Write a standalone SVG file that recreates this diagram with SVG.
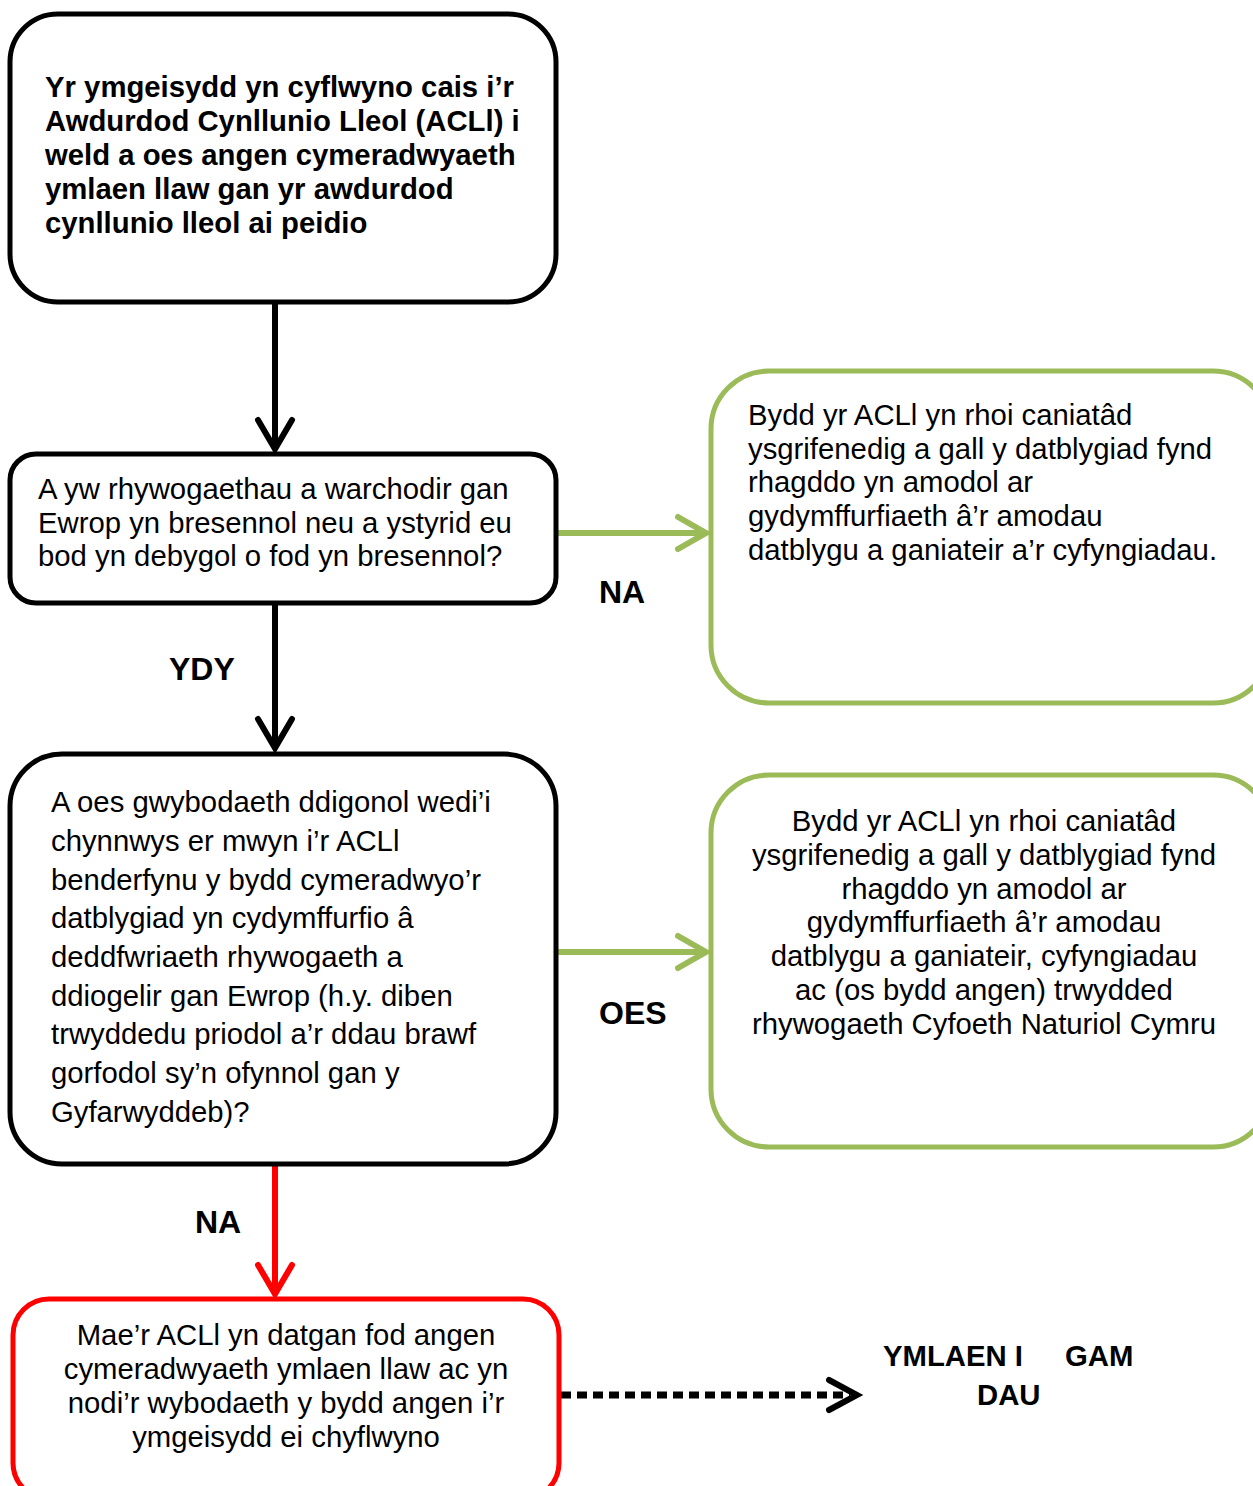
<svg xmlns="http://www.w3.org/2000/svg" width="1253" height="1486" viewBox="0 0 1253 1486">
<style>
.box{fill:#fff;stroke-width:5}
.blk{stroke:#000}
.grn{stroke:#9BBB59}
.red{stroke:#FF0000}
text{font-family:"Liberation Sans",Arial,sans-serif;font-size:29.3px;fill:#000}
.b{font-weight:bold}
.lb{font-weight:bold;font-size:32px}
.c{text-anchor:middle}
.ln{fill:none;stroke-width:6}
.hd{fill:none;stroke-width:6;stroke-linecap:round;stroke-linejoin:miter}
</style>
<rect width="1253" height="1486" fill="#fff"/>
<g id="connectors">
<line class="ln blk" x1="275" y1="302" x2="275" y2="448"/>
<polyline class="hd blk" points="258,420 275,449 292,420"/>
<line class="ln blk" x1="275" y1="603" x2="275" y2="748"/>
<polyline class="hd blk" points="258,719 275,748 292,719"/>
<line class="ln grn" x1="558" y1="533" x2="705" y2="533"/>
<polyline class="hd grn" points="678,517 706,533 678,549"/>
<line class="ln grn" x1="558" y1="952" x2="705" y2="952"/>
<polyline class="hd grn" points="678,936 706,952 678,968"/>
<line class="ln red" x1="275" y1="1148" x2="275" y2="1293"/>
<polyline class="hd red" points="258,1265 275,1294 292,1265"/>
<line x1="561" y1="1395" x2="850" y2="1395" stroke="#000" stroke-width="7" stroke-dasharray="10 6"/>
<polyline class="hd" stroke="#000" stroke-width="7" points="829,1380 857,1395 829,1410"/>
</g>
<g id="node1">
<rect class="box blk" x="10" y="14" width="546" height="288" rx="48"/>
<text class="b"><tspan y="97" x="45">Yr ymgeisydd yn cyflwyno cais i’r</tspan><tspan y="131" x="45">Awdurdod Cynllunio Lleol (ACLl) i</tspan><tspan y="165" x="45">weld a oes angen cymeradwyaeth</tspan><tspan y="199" x="45">ymlaen llaw gan yr awdurdod</tspan><tspan y="233" x="45">cynllunio lleol ai peidio</tspan></text>
</g>
<g id="node2">
<rect class="box blk" x="10" y="454" width="546" height="149" rx="26"/>
<text><tspan y="499" x="38">A yw rhywogaethau a warchodir gan</tspan><tspan y="533" x="38">Ewrop yn bresennol neu a ystyrid eu</tspan><tspan y="566" x="38">bod yn debygol o fod yn bresennol?</tspan></text>
</g>
<g id="node3">
<rect class="box blk" x="10" y="754" width="546" height="410" rx="52"/>
<text><tspan y="812" x="51">A oes gwybodaeth ddigonol wedi’i</tspan><tspan y="851" x="51">chynnwys er mwyn i’r ACLl</tspan><tspan y="890" x="51">benderfynu y bydd cymeradwyo’r</tspan><tspan y="928" x="51">datblygiad yn cydymffurfio â</tspan><tspan y="967" x="51">deddfwriaeth rhywogaeth a</tspan><tspan y="1006" x="51">ddiogelir gan Ewrop (h.y. diben</tspan><tspan y="1044" x="51">trwyddedu priodol a’r ddau brawf</tspan><tspan y="1083" x="51">gorfodol sy’n ofynnol gan y</tspan><tspan y="1122" x="51">Gyfarwyddeb)?</tspan></text>
</g>
<g id="node4">
<rect class="box red" x="13" y="1299" width="546" height="200" rx="36"/>
<text class="c"><tspan y="1345" x="286">Mae’r ACLl yn datgan fod angen</tspan><tspan y="1379" x="286">cymeradwyaeth ymlaen llaw ac yn</tspan><tspan y="1413" x="286">nodi’r wybodaeth y bydd angen i’r</tspan><tspan y="1447" x="286">ymgeisydd ei chyflwyno</tspan></text>
</g>
<g id="node5">
<rect class="box grn" x="711" y="371" width="560" height="332" rx="58"/>
<text><tspan y="425" x="748">Bydd yr ACLl yn rhoi caniatâd</tspan><tspan y="459" x="748">ysgrifenedig a gall y datblygiad fynd</tspan><tspan y="492" x="748">rhagddo yn amodol ar</tspan><tspan y="526" x="748">gydymffurfiaeth â’r amodau</tspan><tspan y="560" x="748">datblygu a ganiateir a’r cyfyngiadau.</tspan></text>
</g>
<g id="node6">
<rect class="box grn" x="711" y="775" width="560" height="372" rx="58"/>
<text class="c"><tspan y="831" x="984">Bydd yr ACLl yn rhoi caniatâd</tspan><tspan y="865" x="984">ysgrifenedig a gall y datblygiad fynd</tspan><tspan y="899" x="984">rhagddo yn amodol ar</tspan><tspan y="932" x="984">gydymffurfiaeth â’r amodau</tspan><tspan y="966" x="984">datblygu a ganiateir, cyfyngiadau</tspan><tspan y="1000" x="984">ac (os bydd angen) trwydded</tspan><tspan y="1034" x="984">rhywogaeth Cyfoeth Naturiol Cymru</tspan></text>
</g>
<g id="labels">
<text class="lb" x="599" y="603">NA</text>
<text class="lb" x="169" y="680">YDY</text>
<text class="lb" x="599" y="1024">OES</text>
<text class="lb" x="195" y="1233">NA</text>
<text class="b" x="883" y="1366">YMLAEN I</text>
<text class="b" x="1065" y="1366">GAM</text>
<text class="b" x="977" y="1405">DAU</text>
</g>
</svg>
